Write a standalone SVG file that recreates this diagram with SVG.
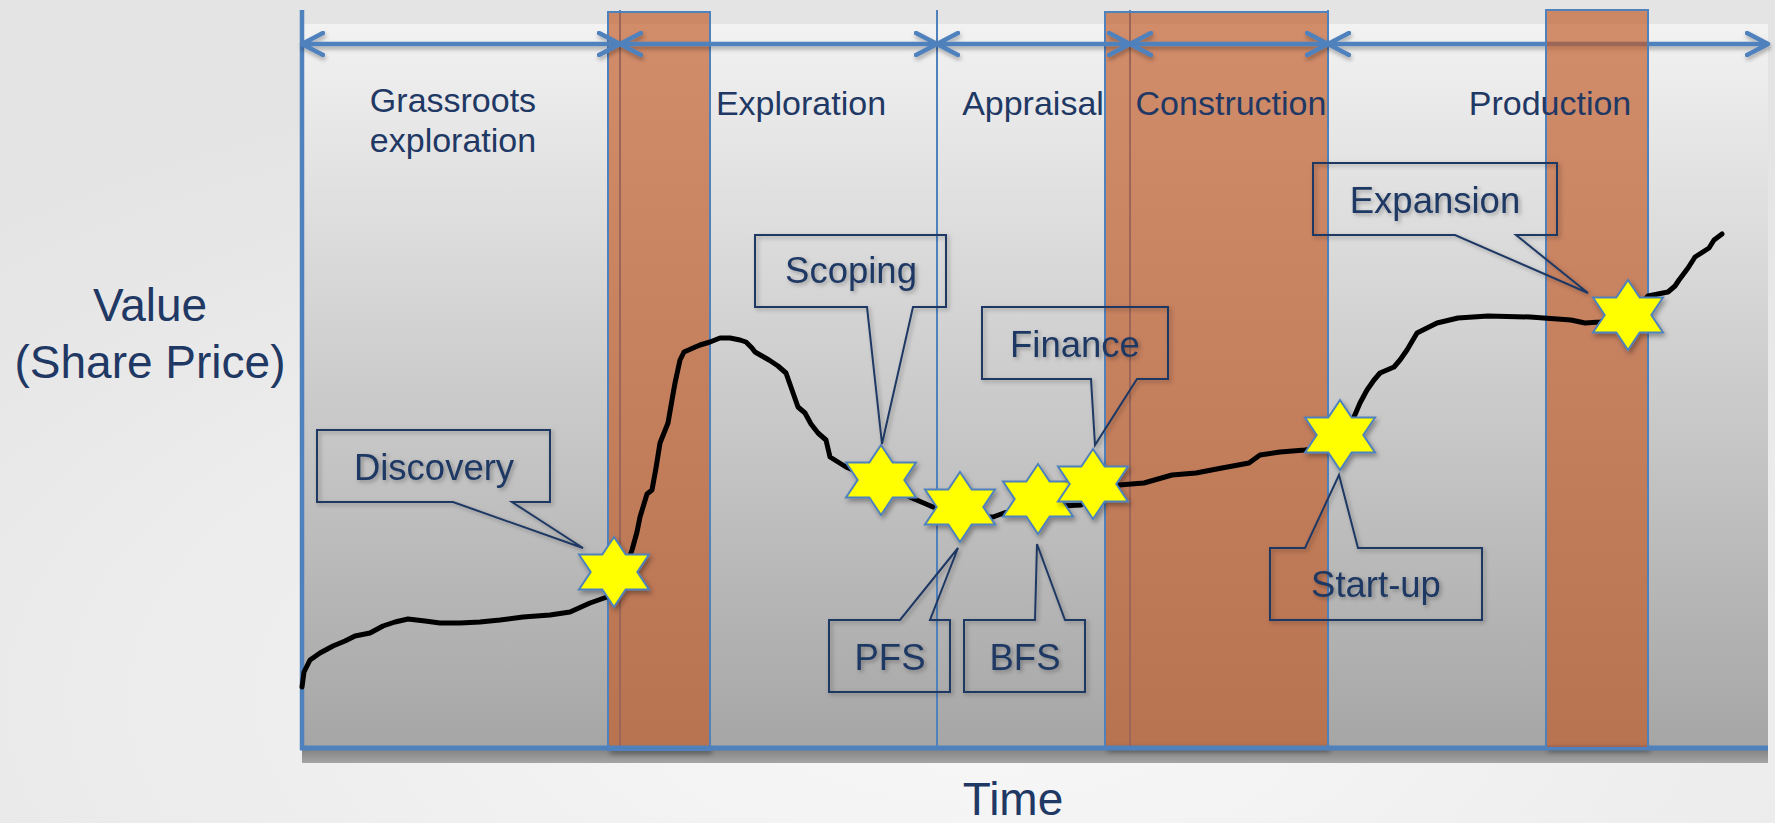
<svg xmlns="http://www.w3.org/2000/svg" xmlns:xlink="http://www.w3.org/1999/xlink" width="1775" height="823" viewBox="0 0 1775 823">
  <defs>
    <radialGradient id="pageBg" cx="0.55" cy="0.85" r="0.8">
      <stop offset="0" stop-color="#f8f8f8"/>
      <stop offset="1" stop-color="#e4e4e4"/>
    </radialGradient>
    <linearGradient id="plotBg" x1="0" y1="0" x2="0" y2="1">
      <stop offset="0" stop-color="#f2f2f2"/>
      <stop offset="1" stop-color="#a4a4a4"/>
    </linearGradient>
    <linearGradient id="shadowBelow" x1="0" y1="0" x2="0" y2="1">
      <stop offset="0" stop-color="#6e6e6e"/>
      <stop offset="1" stop-color="#a6a6a6"/>
    </linearGradient>
    <filter id="sh" x="-20%" y="-20%" width="140%" height="140%">
      <feDropShadow dx="2" dy="3" stdDeviation="2.5" flood-color="#000" flood-opacity="0.35"/>
    </filter>
    <filter id="blur" x="-20%" y="-100%" width="140%" height="300%">
      <feGaussianBlur stdDeviation="2.5"/>
    </filter>
    <filter id="ash" filterUnits="userSpaceOnUse" x="280" y="20" width="1510" height="50">
      <feDropShadow dx="1" dy="3" stdDeviation="2" flood-color="#000" flood-opacity="0.3"/>
    </filter>
    <filter id="tsh" x="-20%" y="-20%" width="140%" height="140%">
      <feDropShadow dx="2" dy="2" stdDeviation="2" flood-color="#000" flood-opacity="0.3"/>
    </filter>
    <marker id="chev" viewBox="0 0 26 26" markerWidth="26" markerHeight="26" refX="23" refY="13" orient="auto-start-reverse" markerUnits="userSpaceOnUse">
      <path d="M2,2 L23,13 L2,24" fill="none" stroke="#4F81BD" stroke-width="4.5" stroke-linecap="round" stroke-linejoin="round"/>
    </marker>
    <path id="star" d="M0,-35 L11.67,-17.5 L35,-17.5 L23.33,0 L35,17.5 L11.67,17.5 L0,35 L-11.67,17.5 L-35,17.5 L-23.33,0 L-35,-17.5 L-11.67,-17.5 Z"/>
    <style>
      .phase { font-family: "Liberation Sans", Arial, sans-serif; font-size: 34px; fill: #1F3864; text-anchor: middle; }
      .axis { font-family: "Liberation Sans", Arial, sans-serif; font-size: 46px; fill: #1F3864; text-anchor: middle; }
      .call { font-family: "Liberation Sans", Arial, sans-serif; font-size: 36.5px; fill: #1F3864; text-anchor: middle; }
      .box { fill: none; stroke: #1F3864; stroke-width: 2; stroke-linejoin: miter; }
      .band { fill: rgb(193,89,39); fill-opacity: 0.67; stroke: #4F81BD; stroke-width: 2; }
      .bandsh { fill: #000; opacity: 0.35; filter: url(#blur); }
      .div { stroke: #4F81BD; stroke-width: 2; }
      .arrow { fill: none; stroke: #4F81BD; stroke-width: 4.5; marker-start: url(#chev); marker-end: url(#chev); }
      .star { fill: #FFFF00; stroke: #4F81BD; stroke-width: 2; }
    </style>
  </defs>

  <rect x="0" y="0" width="1775" height="823" fill="url(#pageBg)"/>

  <g id="plot">
    <rect x="302" y="24" width="1466" height="739" fill="url(#plotBg)"/>
    <rect x="302" y="750" width="1466" height="13" fill="url(#shadowBelow)" opacity="0.6"/>
    <line x1="620" y1="10" x2="620" y2="749" class="div"/>
    <line x1="937" y1="10" x2="937" y2="749" class="div"/>
    <line x1="1130" y1="10" x2="1130" y2="749" class="div"/>
    <line x1="1328" y1="10" x2="1328" y2="749" class="div"/>
    <rect x="610" y="749" width="102" height="5" class="bandsh"/>
    <rect x="1107" y="747" width="223" height="5" class="bandsh"/>
    <rect x="1548" y="747" width="102" height="5" class="bandsh"/>
  </g>

  <g id="band1"><rect x="608" y="12" width="102" height="738" class="band"/></g>
  <g id="band2"><rect x="1105" y="12" width="223" height="736" class="band"/></g>

  <g id="axes">
    <line x1="302" y1="10" x2="302" y2="750" stroke="#4F81BD" stroke-width="4.5"/>
    <line x1="300" y1="748" x2="1768" y2="748" stroke="#4F81BD" stroke-width="5"/>
  </g>

  <g id="connectors" filter="url(#ash)">
    <line x1="302" y1="44" x2="620" y2="44" class="arrow"/>
    <line x1="620" y1="44" x2="937" y2="44" class="arrow"/>
    <line x1="937" y1="44" x2="1130" y2="44" class="arrow"/>
    <line x1="1130" y1="44" x2="1328" y2="44" class="arrow"/>
    <line x1="1328" y1="44" x2="1768" y2="44" class="arrow"/>
  </g>

  <g id="band3"><rect x="1546" y="10" width="102" height="738" class="band"/></g>

  <g id="phase-grassroots"><text class="phase" x="453" y="112">Grassroots</text><text class="phase" x="453" y="152">exploration</text></g>
  <g id="phase-exploration"><text class="phase" x="801" y="115">Exploration</text></g>
  <g id="phase-appraisal"><text class="phase" x="1033" y="115">Appraisal</text></g>
  <g id="phase-construction"><text class="phase" x="1231" y="115">Construction</text></g>
  <g id="phase-production"><text class="phase" x="1550" y="115">Production</text></g>

  <g id="axis-value"><text class="axis" x="150" y="321">Value</text><text class="axis" x="150" y="378">(Share Price)</text></g>
  <g id="axis-time"><text class="axis" x="1013" y="815">Time</text></g>

  <g id="curve">
    <polyline fill="none" stroke="#000" stroke-width="5" stroke-linejoin="round" stroke-linecap="round"
      points="302,687 304,672 310,660 320,653 333,646 345,641 355,636 370,633 383,626 395,622 408,619 425,621 440,623 460,623 480,622 500,620 523,617 550,615 570,612 590,603 607,597 620,585 632,550 637,532 640,517 647,494 652,490 656,468 660,443 668,423 672,400 675,383 680,360 684,352 693,348 700,345 710,342 720,338 730,338 740,340 746,342 752,348 755,352 762,356 769,360 778,366 786,373 792,390 798,407 805,413 811,424 818,433 826,440 830,457 846,467 860,473 881,482 900,492 912,498 933,507 960,512 980,517 993,517 1004,513 1020,509 1038,506 1060,506 1081,505 1093,496 1110,487 1119,485 1144,483 1172,475 1196,473 1222,468 1249,463 1260,455 1280,452 1305,450 1325,447 1340,438 1354,417 1360,403 1367,390 1374,380 1380,373 1394,367 1400,360 1407,350 1417,333 1425,329 1437,323 1458,318 1488,316 1530,317 1571,320 1585,323 1600,322 1628,318 1648,296 1668,292 1675,286 1679,280 1688,268 1695,257 1709,248 1714,240 1722,234"/>
  </g>

  <g id="star-discovery"><use href="#star" x="614" y="572" class="star" filter="url(#sh)"/></g>
  <g id="star-scoping"><use href="#star" x="881" y="480" class="star" filter="url(#sh)"/></g>
  <g id="star-pfs"><use href="#star" x="960" y="507" class="star" filter="url(#sh)"/></g>
  <g id="star-bfs"><use href="#star" x="1038" y="499" class="star" filter="url(#sh)"/></g>
  <g id="star-finance"><use href="#star" x="1093" y="484" class="star" filter="url(#sh)"/></g>
  <g id="star-startup"><use href="#star" x="1340" y="435" class="star" filter="url(#sh)"/></g>
  <g id="star-expansion"><use href="#star" x="1628" y="315" class="star" filter="url(#sh)"/></g>

  <g id="callout-discovery" filter="url(#tsh)">
    <path class="box" d="M317,430 H550 V502 H512 L583,548 L453,502 H317 Z"/>
    <text class="call" x="434" y="480">Discovery</text>
  </g>
  <g id="callout-scoping" filter="url(#tsh)">
    <path class="box" d="M755,235 H946 V307 H913 L882,444 L867,307 H755 Z"/>
    <text class="call" x="851" y="283">Scoping</text>
  </g>
  <g id="callout-finance" filter="url(#tsh)">
    <path class="box" d="M982,307 H1168 V379 H1137 L1095,445 L1091,379 H982 Z"/>
    <text class="call" x="1075" y="357">Finance</text>
  </g>
  <g id="callout-pfs" filter="url(#tsh)">
    <path class="box" d="M829,620 H900 L958,548 L930,620 H950 V692 H829 Z"/>
    <text class="call" x="890" y="670">PFS</text>
  </g>
  <g id="callout-bfs" filter="url(#tsh)">
    <path class="box" d="M964,620 H1035 L1037,544 L1065,620 H1085 V692 H964 Z"/>
    <text class="call" x="1025" y="670">BFS</text>
  </g>
  <g id="callout-startup" filter="url(#tsh)">
    <path class="box" d="M1270,548 H1305 L1339,475 L1358,548 H1482 V620 H1270 Z"/>
    <text class="call" x="1376" y="597">Start-up</text>
  </g>
  <g id="callout-expansion" filter="url(#tsh)">
    <path class="box" d="M1313,163 H1557 V235 H1516 L1588,293 L1455,235 H1313 Z"/>
    <text class="call" x="1435" y="213">Expansion</text>
  </g>
</svg>
